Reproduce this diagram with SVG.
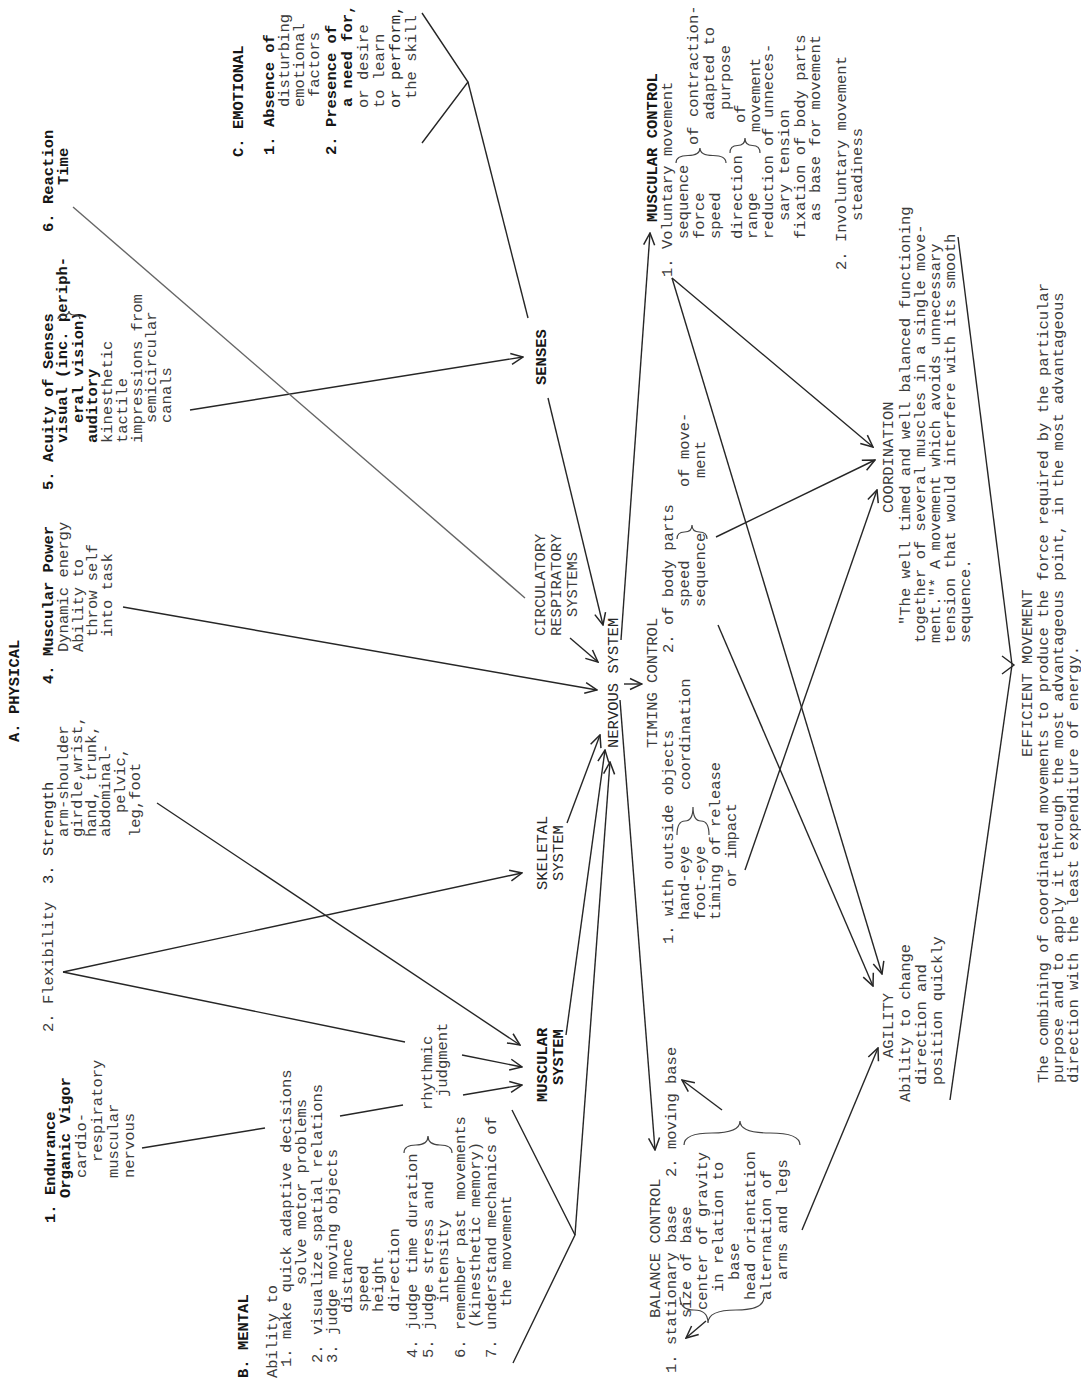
<svg xmlns="http://www.w3.org/2000/svg" width="1081" height="1385" viewBox="0 0 1081 1385">
<defs>
<style>
text{font-family:"Liberation Mono","Courier New",monospace;font-size:15.5px;fill:#3c3c3c}
.b{font-weight:bold;fill:#161616}
.d{fill:#262626}
.c{fill:none;stroke:#262626;stroke-width:1.4}
.lt{stroke:#666}
.a{marker-end:url(#ah)}
.br{fill:none;stroke:#444;stroke-width:1.2}
</style>
<marker id="ah" viewBox="0 0 14 14" refX="13" refY="7" markerWidth="14" markerHeight="14" markerUnits="userSpaceOnUse" orient="auto"><path d="M1,1.5 L13,7 L1,12.5" fill="none" stroke="#262626" stroke-width="1.5"/></marker>
</defs>
<rect width="1081" height="1385" fill="#fff"/>
<g transform="translate(0,1385) rotate(-90)">
<g id="physical-header"><text class="b" x="643" y="19">A. PHYSICAL</text></g>
<g id="endurance">
<text class="b" x="162" y="55">1. Endurance</text>
<text class="b" x="187" y="70">Organic Vigor</text>
<text x="207" y="86">cardio-</text>
<text x="223" y="102">respiratory</text>
<text x="207" y="118">muscular</text>
<text x="207" y="134">nervous</text>
</g>
<g id="flexibility"><text x="353" y="53">2. Flexibility</text></g>
<g id="strength">
<text class="d" x="501" y="53">3. Strength</text>
<text x="548" y="68">arm-shoulder</text>
<text x="548" y="82">girdle,wrist,</text>
<text x="548" y="96">hand, trunk,</text>
<text x="548" y="110">abdominal-</text>
<text x="572" y="125">pelvic,</text>
<text x="548" y="140">leg,foot</text>
</g>
<g id="muscular-power">
<text class="b" x="701" y="53">4. Muscular Power</text>
<text x="733" y="68">Dynamic energy</text>
<text x="733" y="83">Ability to</text>
<text x="748" y="97">throw self</text>
<text x="748" y="112">into task</text>
</g>
<g id="acuity">
<text class="b" x="895" y="53">5. Acuity of Senses</text>
<text class="b" x="942" y="67">visual (inc. periph-</text>
<text class="b" x="962" y="83">eral vision)</text>
<text class="b" x="942" y="97">auditory</text>
<text x="942" y="112">kinesthetic</text>
<text x="942" y="127">tactile</text>
<text x="942" y="142">impressions from</text>
<text x="962" y="156">semicircular</text>
<text x="962" y="171">canals</text>
<path class="br" d="M1066,58 Q1070,58 1070,63.5 Q1070,69 1074,69 Q1070,69 1070,74.5 Q1070,80 1066,80"/>
</g>
<g id="reaction-time">
<text class="b" x="1153" y="53">6. Reaction</text>
<text class="b" x="1200" y="68">Time</text>
</g>
<g id="emotional">
<text class="b" x="1228" y="243">C. EMOTIONAL</text>
<text class="b" x="1230" y="274">1. Absence of</text>
<text x="1278" y="289">disturbing</text>
<text x="1278" y="304">emotional</text>
<text x="1288" y="319">factors</text>
<text class="b" x="1230" y="336">2. Presence of</text>
<text class="b" x="1278" y="352">a need for,</text>
<text x="1277" y="368">or desire</text>
<text x="1277" y="384">to learn</text>
<text class="d" x="1277" y="400">or perform,</text>
<text x="1286" y="416">the skill</text>
</g>
<g id="mental">
<text class="b" x="7" y="248">B. MENTAL</text>
<text x="7" y="277">Ability to</text>
<text x="18" y="291">1. make quick adaptive decisions</text>
<text x="100" y="306">solve motor problems</text>
<text x="22" y="322">2. visualize spatial relations</text>
<text x="22" y="337">3. judge moving objects</text>
<text x="72" y="352">distance</text>
<text x="73" y="368">speed</text>
<text x="73" y="383">height</text>
<text x="73" y="399">direction</text>
<text x="27" y="417">4. judge time duration</text>
<text x="27" y="433">5. judge stress and</text>
<text x="82" y="448">intensity</text>
<text x="27" y="465">6. remember past movements</text>
<text x="57" y="480">(kinesthetic memory)</text>
<text x="27" y="496">7. understand mechanics of</text>
<text x="78" y="511">the movement</text>
<path class="br" d="M232,404 Q240,404 240,416 Q240,428 249,428 Q240,428 240,440 Q240,452 232,452"/>
</g>
<g id="rhythmic-judgment">
<text x="275" y="432">rhythmic</text>
<text x="288" y="447">judgment</text>
</g>
<g id="muscular-system">
<text class="b" x="283" y="547">MUSCULAR</text>
<text class="b" x="300" y="563">SYSTEM</text>
</g>
<g id="skeletal-system">
<text class="d" x="495" y="547">SKELETAL</text>
<text class="d" x="504" y="563">SYSTEM</text>
</g>
<g id="circulatory">
<text x="749" y="545">CIRCULATORY</text>
<text x="749" y="561">RESPIRATORY</text>
<text x="768" y="577">SYSTEMS</text>
</g>
<g id="senses"><text class="b" x="1000" y="546">SENSES</text></g>
<g id="nervous-system"><text class="d" x="637" y="618">NERVOUS SYSTEM</text></g>
<g id="timing-control">
<text x="637" y="657">TIMING CONTROL</text>
<text x="441" y="673">1. with outside objects</text>
<text x="465" y="689">hand-eye</text>
<text x="465" y="705">foot-eye</text>
<text x="595" y="690">coordination</text>
<text x="465" y="720">timing of release</text>
<text x="498" y="736">or impact</text>
<path class="br" d="M550,677 Q564,677 564,685 Q564,693 578,693 Q564,693 564,701 Q564,709 550,709"/>
<text x="732" y="673">2. of body parts</text>
<text x="778" y="689">speed</text>
<text x="778" y="705">sequence</text>
<path class="br" d="M846,677 Q853,677 853,684.5 Q853,692 860,692 Q853,692 853,699.5 Q853,707 846,707"/>
<text x="898" y="689">of move-</text>
<text x="907" y="705">ment</text>
</g>
<g id="muscular-control">
<text class="b" x="1163" y="657">MUSCULAR CONTROL</text>
<text x="1108" y="672">1. Voluntary movement</text>
<text x="1146" y="688">sequence</text>
<text x="1146" y="704">force</text>
<text x="1146" y="720">speed</text>
<text x="1146" y="742">direction</text>
<text x="1146" y="757">range</text>
<text x="1146" y="773">reduction of unneces-</text>
<text x="1164" y="789">sary tension</text>
<text x="1146" y="805">fixation of body parts</text>
<text x="1164" y="820">as base for movement</text>
<text x="1115" y="846">2. Involuntary movement</text>
<text x="1164" y="862">steadiness</text>
<path class="br" d="M1222,676 Q1229.5,676 1229.5,688 Q1229.5,700 1237,700 Q1229.5,700 1229.5,713 Q1229.5,726 1222,726"/>
<text x="1240" y="698">of contraction-</text>
<text x="1265" y="714">adapted to</text>
<text x="1275" y="730">purpose</text>
<text x="1262" y="745">of</text>
<path class="br" d="M1232,730 Q1239.5,730 1239.5,737.5 Q1239.5,745 1247,745 Q1239.5,745 1239.5,752.5 Q1239.5,760 1232,760"/>
<text x="1253" y="760">movement</text>
</g>
<g id="coordination">
<text x="872" y="893">COORDINATION</text>
<text x="760" y="910">"The well timed and well balanced functioning</text>
<text x="742" y="925">together of several muscles in a single move-</text>
<text x="742" y="940">ment."*</text>
<text x="816" y="940">A movement which avoids unnecessary</text>
<text x="742" y="955">tension that would interfere with its smooth</text>
<text x="742" y="970">sequence.</text>
</g>
<g id="balance-control">
<text x="67" y="660">BALANCE CONTROL</text>
<text x="12" y="676">1. stationary base</text>
<text x="208" y="676">2. moving base</text>
<text x="67" y="691">size of base</text>
<text x="75" y="707">center of gravity</text>
<text x="93" y="723">in relation to</text>
<text x="105" y="739">base</text>
<text x="85" y="755">head orientation</text>
<text x="85" y="771">alternation of</text>
<text x="105" y="787">arms and legs</text>
<path class="br" d="M88,680 Q75,680 75,694 Q75,708 62,708 Q75,708 75,736 Q75,764 88,764"/>
<path class="br" d="M240,684 Q252,684 252,712 Q252,740 264,740 Q252,740 252,770 Q252,800 240,800"/>
</g>
<g id="agility">
<text x="327" y="893">AGILITY</text>
<text x="283" y="910">Ability to change</text>
<text x="300" y="926">direction and</text>
<text x="300" y="942">position quickly</text>
</g>
<g id="efficient-movement">
<text x="628" y="1032">EFFICIENT MOVEMENT</text>
<text x="302" y="1048">The combining of coordinated movements to produce the force required by the particular</text>
<text x="302" y="1063">purpose and to apply it through the most advantageous point, in the most advantageous</text>
<text x="302" y="1078">direction with the least expenditure of energy.</text>
</g>
</g>
<g id="connectors">
<line class="c" x1="142" y1="1148" x2="265" y2="1128"/>
<line class="c" x1="340" y1="1116" x2="403" y2="1105"/>
<line class="c a" x1="63" y1="972" x2="522" y2="873"/>
<line class="c" x1="63" y1="972" x2="405" y2="1042"/>
<line class="c a" x1="157" y1="803" x2="520" y2="1045"/>
<line class="c a" x1="462" y1="1055" x2="522" y2="1067"/>
<line class="c a" x1="463" y1="1095" x2="522" y2="1085"/>
<line class="c a" x1="123" y1="607" x2="597" y2="690"/>
<line class="c a" x1="190" y1="410" x2="523" y2="357"/>
<line class="c lt" x1="73" y1="207" x2="525" y2="598"/>
<polyline class="c" points="422,13 468,82 422,143"/>
<line class="c" x1="468" y1="82" x2="528" y2="318"/>
<line class="c a" x1="548" y1="398" x2="603" y2="625"/>
<line class="c a" x1="570" y1="638" x2="598" y2="662"/>
<line class="c a" x1="621" y1="640" x2="650" y2="233"/>
<line class="c a" x1="624" y1="684" x2="642" y2="684"/>
<line class="c a" x1="567" y1="823" x2="600" y2="735"/>
<line class="c a" x1="566" y1="1035" x2="605" y2="750"/>
<polyline class="c" points="512,1110 575,1235 513,1363"/>
<line class="c a" x1="575" y1="1235" x2="610" y2="762"/>
<line class="c a" x1="620" y1="700" x2="655" y2="1150"/>
<line class="c a" x1="672" y1="278" x2="873" y2="447"/>
<line class="c a" x1="672" y1="278" x2="882" y2="974"/>
<line class="c a" x1="716" y1="537" x2="875" y2="460"/>
<line class="c a" x1="718" y1="625" x2="873" y2="986"/>
<line class="c a" x1="745" y1="870" x2="877" y2="490"/>
<line class="c a" x1="802" y1="1230" x2="878" y2="1048"/>
<line class="c" x1="958" y1="237" x2="1012" y2="665"/>
<line class="c" x1="950" y1="1100" x2="1012" y2="665"/>
<path class="c" d="M1002,656 L1014,665 L1002,674"/>
<line class="c a" x1="706" y1="1321" x2="686" y2="1338"/>
<line class="c a" x1="722" y1="1110" x2="682" y2="1080"/>
</g>
</svg>
